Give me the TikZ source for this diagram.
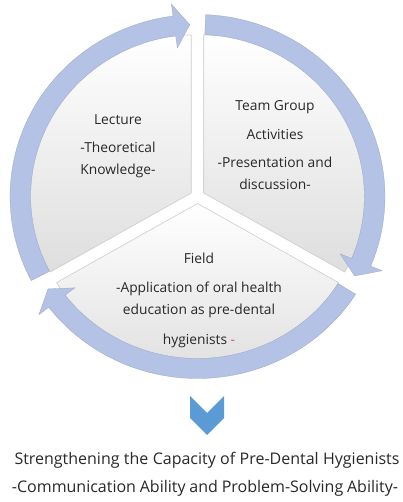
\documentclass[tikz,border=0pt]{standalone}
\usepackage{fontspec}
\setmainfont{Open Sans}
\definecolor{ringblue}{RGB}{180,194,230}
\definecolor{chevblue}{RGB}{91,155,213}
\definecolor{txtgray}{RGB}{40,40,40}
\definecolor{dashred}{RGB}{205,85,85}

\begin{document}
\begin{tikzpicture}[x=1pt, y=1pt,
    ringarrow/.style={fill=ringblue, draw=ringblue!85!black, line width=0.3pt},
    piece/.style={top color=white, middle color=white, bottom color=black!13, draw=black!20, line width=0.6pt},
    blocktext/.style={text=txtgray, align=center, font=\fontsize{13.8}{22}\selectfont},
    bottomtext/.style={text=txtgray, font=\fontsize{16}{22}\selectfont}]
  \useasboundingbox (0, 0) rectangle (402, -502);

  \begin{scope}[shift={(197.5, -196.5)}, xscale=1.03]
    % pie pieces
    \path[piece] (150:7pt) -- ++(90:158pt) arc[start angle=90, end angle=210, radius=158pt] -- cycle;
    \path[piece] (30:7pt) -- ++(-30:158pt) arc[start angle=-30, end angle=90, radius=158pt] -- cycle;
    \path[piece] (270:7pt) -- ++(210:158pt) arc[start angle=210, end angle=330, radius=158pt] -- cycle;

    % circular arrows
    \path[ringarrow] (207.5:182pt) arc[start angle=207.5, end angle=97.5, radius=182pt] -- (97.5:194pt) -- (92.5:172pt) -- (97.5:150pt) -- (97.5:162pt) arc[start angle=97.5, end angle=207.5, radius=162pt] -- cycle;
    \path[ringarrow] (87.5:182pt) arc[start angle=87.5, end angle=-22.5, radius=182pt] -- (-22.5:194pt) -- (-27.5:172pt) -- (-22.5:150pt) -- (-22.5:162pt) arc[start angle=-22.5, end angle=87.5, radius=162pt] -- cycle;
    \path[ringarrow] (-32.5:182pt) arc[start angle=-32.5, end angle=-142.5, radius=182pt] -- (-142.5:194pt) -- (-147.5:172pt) -- (-142.5:150pt) -- (-142.5:162pt) arc[start angle=-142.5, end angle=-32.5, radius=162pt] -- cycle;
  \end{scope}

  \node[blocktext] (lecture) at (118, -146) {Lecture\\[6pt]-Theoretical\\Knowledge-};
  \node[blocktext] (team) at (275, -145) {Team Group\\[7pt]Activities\\[6pt]-Presentation and\\discussion-};
  \node[blocktext] (field) at (199, -300) {Field\\[7pt]-Application of oral health\\education as pre-dental\\[8pt]hygienists \textcolor{dashred}{-}};

  % down chevron
  \path[fill=chevblue] (190, -396) -- (207, -413) -- (224, -396) -- (224, -418) -- (207, -435) -- (190, -418) -- cycle;

  \node[bottomtext] (capacity) at (207, -460) {\makebox[385pt][s]{Strengthening the Capacity of Pre-Dental Hygienists}};
  \node[bottomtext] (ability) at (205, -488) {\makebox[386pt][s]{-Communication Ability and Problem-Solving Ability-}};
\end{tikzpicture}
\end{document}
